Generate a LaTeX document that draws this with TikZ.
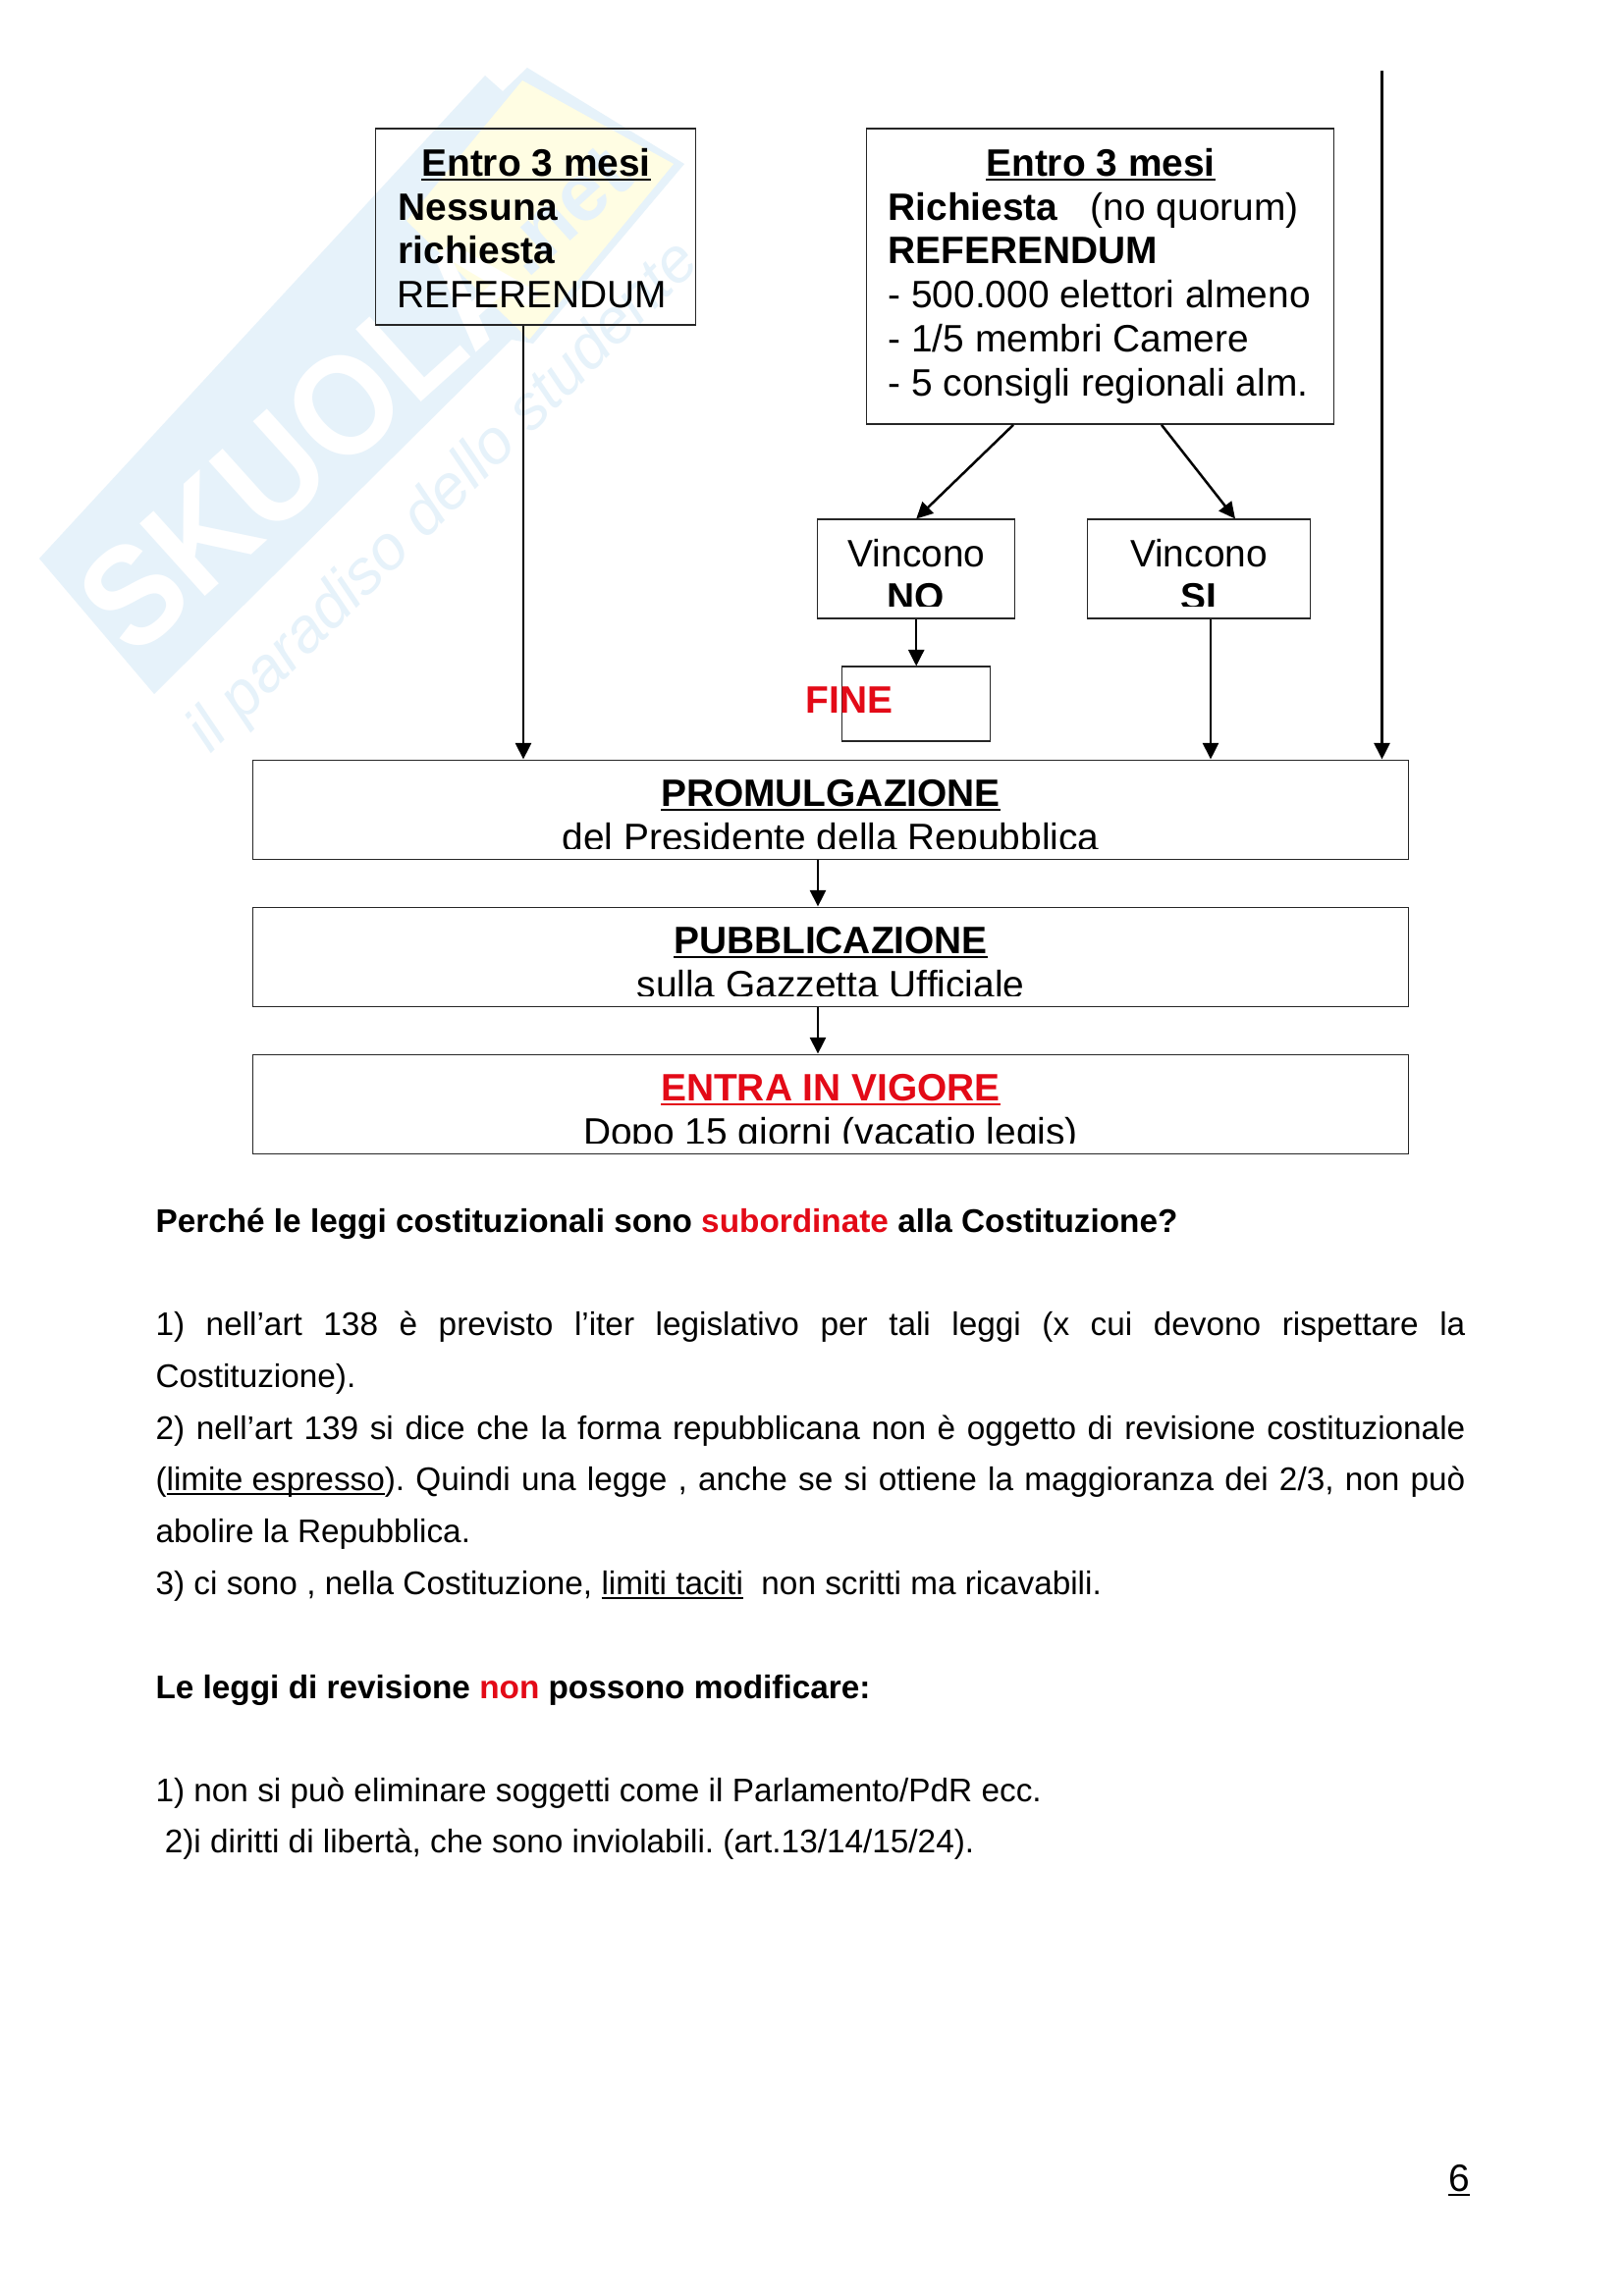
\documentclass[tikz,border=0pt]{standalone}
\usepackage{fontspec}
\setmainfont{Liberation Sans}
\usetikzlibrary{arrows.meta,calc}
\definecolor{wmblue}{HTML}{E6F2FA}
\definecolor{wmyellow}{HTML}{FFFDE3}
\definecolor{redtxt}{HTML}{E30A17}
\newcommand{\ulin}[1]{\setbox0\hbox{#1}\rlap{\rule[-1.7bp]{\wd0}{0.75bp}}\box0 }
\newcommand{\bigf}{\fontsize{14bp}{16bp}\selectfont}
\newcommand{\bodyf}{\fontsize{12bp}{14bp}\selectfont\frenchspacing}
\newcommand{\jline}[1]{\hbox to 480.2bp{#1}}
\tikzset{
  x=0.36bp,y=-0.36bp,
  arr/.style={draw=black,line width=0.9bp,-{Triangle[length=6bp,width=5.8bp]},shorten >=0pt},
  big txt/.style={inner sep=0pt,anchor=base west,font=\bigf},
  big mid/.style={inner sep=0pt,anchor=base,font=\bigf},
  body/.style={inner sep=0pt,anchor=base west,font=\bodyf},
}
\newcommand{\bx}[5]{\node[draw=black!85,line width=0.5bp,inner sep=0pt,minimum width=#4*0.36bp,minimum height=#5*0.36bp,anchor=north west] (#1) at (#2,#3) {};}
\begin{document}
\begin{tikzpicture}
\useasboundingbox (0,0) rectangle (1653,2339);
\fill[white] (0,0) rectangle (1653,2339);
% watermark
\fill[wmblue] (40,569) -- (494,77) -- (512,93) -- (537,69) -- (697,167) -- (543,350) -- (521,346) -- (157,707) -- cycle;
\fill[wmyellow] (414,225) -- (532,82) -- (686,167) -- (539,346) -- cycle;
\node[inner sep=0pt,rotate=42,text=white,xscale=0.92,font=\bfseries\fontsize{52bp}{52bp}\selectfont] (wmlogo) at (312,448) {SKUOLA};
\node[inner sep=0pt,rotate=42,text=wmblue,font=\bfseries\fontsize{30bp}{30bp}\selectfont] (wmnet) at (575,215) {.net};
\node[inner sep=0pt,rotate=45,text=wmblue,font=\itshape\fontsize{23bp}{23bp}\selectfont] (wmsub) at (453,507) {il paradiso dello studente};
% boxes
\bx{b1}{382}{130.5}{326}{200}
\bx{b2}{882}{130.5}{476}{301}
\bx{no}{832}{528.5}{201}{101}
\bx{si}{1107}{528.5}{227}{101}
\bx{fine}{857}{678.5}{151}{76}
\bx{promo}{257}{773.5}{1177}{101}
\bx{pubb}{257}{923.5}{1177}{101}
\bx{vig}{257}{1073.5}{1177}{101}
\coordinate (topfree) at (1407.5,72);
% box 1 text
\node[big mid,font=\bigf\bfseries] (t1a) at (546,179.5) {\ulin{Entro 3 mesi}};
\node[big txt,font=\bigf\bfseries] (t1b) at (405,224.5) {Nessuna};
\node[big txt,font=\bigf\bfseries] (t1c) at (405,269) {richiesta};
\node[big txt] (t1d) at (404,313.5) {REFERENDUM};
% box 2 text
\node[big mid,font=\bigf\bfseries] (t2a) at (1121,179.5) {\ulin{Entro 3 mesi}};
\node[big txt] (t2b) at (904,224.5) {\textbf{Richiesta}\hspace{0.85em}(no quorum)};
\node[big txt,font=\bigf\bfseries] (t2c) at (904,269) {REFERENDUM};
\node[big txt] (t2d) at (904,313.5) {- 500.000 elettori almeno};
\node[big txt] (t2e) at (904,358.5) {- 1/5 membri Camere};
\node[big txt] (t2f) at (904,403.5) {- 5 consigli regionali alm.};
% vincono
\node[big mid] (t3a) at (933.5,577.5) {Vincono};
\node[big mid] (t4a) at (1221,577.5) {Vincono};
\begin{scope}
\clip (832,529) rectangle (1033,618);
\node[big mid,font=\bigf\bfseries] (t3b) at (933,622) {NO};
\end{scope}
\begin{scope}
\clip (1107,529) rectangle (1334,618);
\node[big mid,font=\bigf\bfseries] (t4b) at (1221,622) {SI};
\end{scope}
\node[big txt,font=\bigf\bfseries,text=redtxt] (tfine) at (820,726.5) {FINE};
% wide boxes
\node[big mid,font=\bigf\bfseries] (t5a) at (846,821.5) {\ulin{PROMULGAZIONE}};
\node[big mid,font=\bigf\bfseries] (t6a) at (846,971.5) {\ulin{PUBBLICAZIONE}};
\node[big mid,font=\bigf\bfseries,text=redtxt] (t7a) at (846,1121.5) {\ulin{ENTRA IN VIGORE}};
\begin{scope}
\clip (257,774) rectangle (1434,864);
\node[big mid] (t5b) at (846,866.5) {del Presidente della Repubblica};
\end{scope}
\begin{scope}
\clip (257,924) rectangle (1434,1014);
\node[big mid] (t6b) at (846,1016.5) {sulla Gazzetta Ufficiale};
\end{scope}
\begin{scope}
\clip (257,1074) rectangle (1434,1164);
\node[big mid] (t7b) at (846,1166.5) {Dopo 15 giorni (vacatio legis)};
\end{scope}
% connectors
\draw[arr] ($(b1.south west)+(151,0)$) -- ($(promo.north west)+(276,0)$);
\draw[arr] ($(b2.south west)+(150,0)$) -- (no.north);
\draw[arr] ($(b2.south west)+(301,0)$) -- ($(si.north west)+(151,0)$);
\draw[arr] (no.south) -- (fine.north);
\draw[arr] ($(si.south west)+(126,0)$) -- ($(promo.north west)+(976,0)$);
\draw[arr] (topfree) -- ($(promo.north west)+(1150.5,0)$);
\draw[arr] ($(promo.south west)+(576,0)$) -- ($(pubb.north west)+(576,0)$);
\draw[arr] ($(pubb.south west)+(576,0)$) -- ($(vig.north west)+(576,0)$);
% body text
\node[body] (p1) at (158,1255) {\textbf{Perché le leggi costituzionali sono \textcolor{redtxt}{subordinate} alla Costituzione?}};
\node[body] (p2) at (158,1360.5) {\jline{1) nell’art 138 è previsto l’iter legislativo per tali leggi (x cui devono rispettare la}};
\node[body] (p3) at (158,1413.5) {Costituzione).};
\node[body] (p4) at (158,1466.5) {\jline{2) nell’art 139 si dice che la forma repubblicana non è oggetto di revisione costituzionale}};
\node[body] (p5) at (158,1518.5) {\jline{(\ulin{limite espresso}). Quindi una legge , anche se si ottiene la maggioranza dei 2/3, non può}};
\node[body] (p6) at (158,1571.5) {abolire la Repubblica.};
\node[body] (p7) at (158,1624.5) {3) ci sono , nella Costituzione, \ulin{limiti taciti}\ \ non scritti ma ricavabili.};
\node[body] (p8) at (158,1730) {\textbf{Le leggi di revisione \textcolor{redtxt}{non} possono modificare:}};
\node[body] (p9) at (158,1835.5) {1) non si può eliminare soggetti come il Parlamento/PdR ecc.};
\node[body] (p10) at (158,1887.5) {\ 2)i diritti di libertà, che sono inviolabili. (art.13/14/15/24).};
\node[big mid] (pg) at (1486,2232) {\ulin{6}};
\end{tikzpicture}
\end{document}
